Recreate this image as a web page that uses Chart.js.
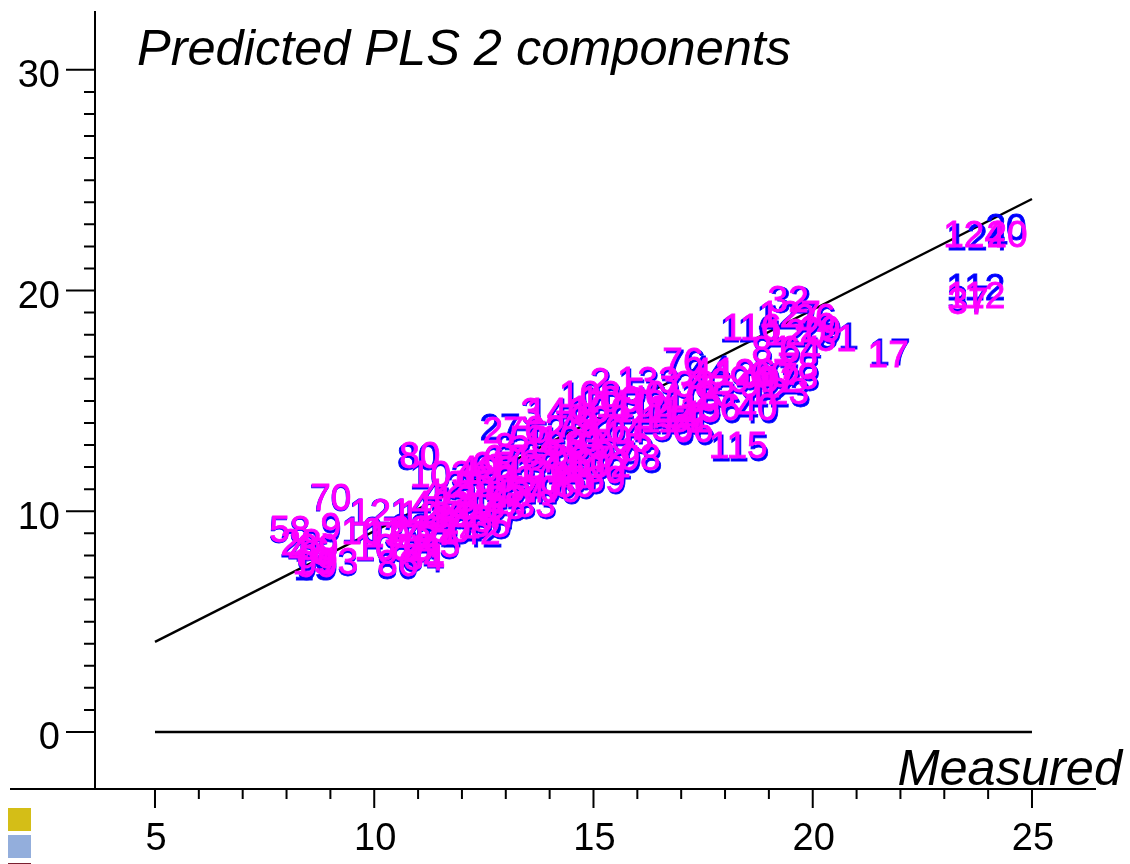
<!DOCTYPE html>
<html lang="en">
<head>
    <meta charset="UTF-8">
    <title>Predicted PLS 2 components</title>
    <script src="https://cdn.jsdelivr.net/npm/chart.js@4/dist/chart.umd.min.js"></script>
    <style>
        body { margin: 0; background: #fff; }
        canvas { display: block; }
    </style>
</head>
<body>
    <canvas id="plsChart" width="1130" height="864"></canvas>

    <script>
        // sample numbers, same order in all four arrays below
        const sampleIds = [
            58, 28, 70, 9, 93, 19, 46, 39, 99, 121, 107, 101, 86, 88, 34, 41, 125, 63, 134, 72, 52, 45,
            103, 4, 43, 142, 143, 16, 18, 21, 22, 24, 25, 135, 30, 35, 33, 47, 48, 49, 50, 53, 54, 55, 57,
            80, 27, 67, 8, 65, 61,
            3, 140, 59, 62, 136, 68, 71, 131, 74, 75, 77, 130, 79, 82, 83, 84, 85, 87, 69, 89, 90,
            98, 95, 97, 100, 102, 104, 106, 108, 2, 109, 110, 111,
            133, 5, 6, 7, 10, 11, 12, 13, 76, 14, 15, 23, 38, 42, 114, 51, 56, 66, 96, 40, 115,
            44, 126, 60, 91, 92, 94, 123, 78, 73,
            116, 32, 127, 26, 29, 31, 17, 112, 37, 124, 20, 81, 64, 120
        ];

        // magenta labels
        const measuredPls = [
            8.08, 8.33, 9.01, 9.01, 9.17, 8.60, 8.51, 8.72, 8.69, 10.15, 9.95, 10.25, 10.54, 10.86, 11.13, 11.16, 11.27, 10.82, 10.47, 11.04, 11.45, 11.50,
            11.52, 11.34, 11.32, 12.18, 12.00, 11.68, 11.84, 12.18, 12.53, 12.41, 12.07, 12.75, 11.73, 12.64, 13.67, 12.87, 13.10, 12.37, 12.75, 13.21, 13.44, 12.30, 12.98,
            11.04, 12.94, 12.96, 12.98, 12.69, 13.21,
            13.57, 14.17, 13.55, 13.89, 14.12, 13.78, 14.24, 13.67, 14.01, 14.35, 13.89, 14.46, 14.58, 14.92, 14.81, 15.15, 14.46, 14.92, 15.26, 14.58, 14.24,
            16.06, 15.88, 15.49, 15.03, 15.15, 15.49, 15.15, 14.92, 15.15, 15.38, 15.72, 16.06,
            16.24, 15.95, 16.40, 16.74, 17.09, 16.63, 16.29, 17.43, 17.04, 16.97, 17.43, 17.77, 17.31, 17.66, 16.74, 17.20, 16.79, 17.27, 17.88, 18.73, 18.30,
            17.70, 18.45, 19.03, 18.80, 19.25, 18.57, 19.21, 19.66, 19.66,
            18.61, 19.44, 19.48, 20.05, 20.17, 20.53, 21.72, 23.72, 23.54, 23.68, 24.43, 19.07, 19.71, 19.60
        ];
        const predictedPls = [
            9.15, 8.56, 10.60, 9.29, 7.70, 7.70, 8.16, 8.34, 7.57, 9.92, 9.06, 8.34, 7.61, 8.34, 7.88, 8.03, 9.83, 9.15, 8.93, 8.93, 9.15, 8.47,
            11.64, 10.83, 10.29, 9.06, 9.61, 9.83, 10.51, 10.29, 10.74, 9.83, 11.19, 10.19, 9.15, 9.38, 10.29, 9.83, 10.74, 11.87, 11.42, 11.42, 10.97, 11.19, 10.51,
            12.50, 13.64, 12.37, 12.91, 12.05, 11.87,
            14.50, 14.50, 13.23, 13.68, 13.00, 12.55, 12.32, 11.87, 11.64, 11.42, 10.97, 13.23, 13.91, 14.14, 13.00, 13.46, 12.10, 12.32, 11.42, 11.19, 10.97,
            12.41, 13.23, 12.55, 11.87, 12.10, 13.68, 14.59, 15.27, 15.86, 15.04, 14.82, 14.59,
            15.90, 15.41, 15.27, 15.50, 15.04, 14.59, 14.59, 15.27, 16.76, 14.36, 14.59, 15.27, 15.72, 15.86, 14.14, 14.14, 13.77, 13.68, 14.68, 14.68, 12.96,
            16.31, 16.27, 16.18, 15.72, 15.95, 15.95, 15.41, 16.54, 16.09,
            18.31, 19.57, 18.89, 18.76, 18.21, 17.81, 17.08, 19.76, 19.48, 22.52, 22.52, 17.31, 17.31, 18.08
        ];

        // blue labels
        const measuredOls = [
            8.07, 8.32, 9.00, 9.02, 9.16, 8.63, 8.50, 8.71, 8.70, 10.13, 9.96, 10.26, 10.53, 10.85, 11.12, 11.15, 11.26, 10.83, 10.46, 11.03, 11.44, 11.49,
            11.51, 11.33, 11.31, 12.23, 12.02, 11.71, 11.87, 12.21, 12.56, 12.44, 12.10, 12.78, 11.76, 12.67, 13.70, 12.90, 13.13, 12.40, 12.78, 13.24, 13.47, 12.33, 13.01,
            10.99, 12.87, 12.94, 13.01, 12.72, 13.24,
            13.59, 14.20, 13.58, 13.92, 14.15, 13.81, 14.27, 13.70, 14.04, 14.38, 13.92, 14.49, 14.61, 14.95, 14.84, 15.18, 14.49, 14.95, 15.29, 14.61, 14.27,
            16.10, 15.91, 15.52, 15.06, 15.18, 15.52, 15.18, 14.95, 15.18, 15.41, 15.75, 16.09,
            16.27, 15.98, 16.43, 16.77, 17.12, 16.66, 16.32, 17.46, 17.09, 17.00, 17.46, 17.80, 17.34, 17.69, 16.77, 17.23, 16.82, 17.31, 17.92, 18.77, 18.34,
            17.66, 18.48, 19.06, 18.83, 19.28, 18.60, 19.25, 19.70, 19.70,
            18.55, 19.50, 19.42, 20.08, 20.20, 20.58, 21.76, 23.72, 23.54, 23.75, 24.41, 19.10, 19.74, 19.63
        ];
        const predictedOls = [
            9.12, 8.50, 10.58, 9.15, 7.60, 7.43, 8.10, 8.28, 7.46, 9.95, 9.10, 8.28, 7.48, 8.27, 7.82, 7.97, 9.79, 9.25, 8.86, 8.86, 9.08, 8.40,
            11.58, 10.76, 10.22, 8.93, 9.52, 9.74, 10.42, 10.20, 10.65, 9.74, 11.10, 10.10, 9.06, 9.29, 10.20, 9.74, 10.65, 11.78, 11.33, 11.33, 10.88, 11.10, 10.42,
            12.41, 13.77, 12.28, 12.82, 11.96, 11.78,
            14.45, 14.45, 13.14, 13.59, 12.91, 12.46, 12.23, 11.78, 11.55, 11.33, 10.88, 13.14, 13.82, 14.05, 12.91, 13.37, 12.01, 12.23, 11.33, 11.10, 10.88,
            12.28, 13.14, 12.46, 11.78, 12.01, 13.59, 14.50, 15.18, 15.82, 14.95, 14.73, 14.50,
            15.81, 15.32, 15.18, 15.41, 14.95, 14.50, 14.50, 15.18, 16.67, 14.27, 14.50, 15.18, 15.63, 15.77, 14.05, 14.05, 13.68, 13.55, 14.55, 14.54, 12.82,
            16.40, 16.18, 16.09, 15.63, 15.86, 15.86, 15.28, 16.45, 16.00,
            18.22, 19.53, 18.80, 18.67, 18.12, 17.90, 17.17, 20.12, 19.57, 22.38, 22.84, 17.22, 17.22, 17.99
        ];

        // regression line and zero line
        const fitLineX = [5, 25];
        const fitLineY = [4.08, 24.15];
        const zeroLineY = [0, 0];

        const xTickRange = [5, 25];
        const yTickRange = [0, 30];

        function toPoints(xs, ys) {
            return xs.map((x, i) => ({ x: x, y: ys[i] }));
        }

        // number labels instead of point markers
        const sampleLabels = {
            id: 'sampleLabels',
            afterDatasetsDraw(chart) {
                const ctx = chart.ctx;
                ctx.save();
                ctx.font = '37px "Liberation Sans"';
                ctx.textAlign = 'center';
                ctx.textBaseline = 'middle';
                ctx.lineWidth = 0.8;
                [[2, '#0000ff'], [3, '#ff00ff']].forEach(([index, colour]) => {
                    ctx.fillStyle = colour;
                    ctx.strokeStyle = colour;
                    chart.getDatasetMeta(index).data.forEach((point, i) => {
                        // middle baseline sits a bit high for digits
                        ctx.fillText(String(sampleIds[i]), point.x, point.y + 2);
                        ctx.strokeText(String(sampleIds[i]), point.x, point.y + 2);
                    });
                });
                ctx.restore();
            }
        };

        // tick marks with two lengths, the long x axis line, captions, swatches
        const axisExtras = {
            id: 'axisExtras',
            afterDraw(chart) {
                const ctx = chart.ctx;
                const xScale = chart.scales.x;
                const yScale = chart.scales.y;
                const area = chart.chartArea;
                ctx.save();
                ctx.strokeStyle = '#000';
                ctx.lineWidth = 2;
                ctx.beginPath();
                ctx.moveTo(10, area.bottom);
                ctx.lineTo(area.left, area.bottom);
                xScale.ticks.forEach(tick => {
                    const px = xScale.getPixelForValue(tick.value);
                    ctx.moveTo(px, area.bottom);
                    ctx.lineTo(px, area.bottom + (tick.value % 5 === 0 ? 19 : 10));
                });
                yScale.ticks.forEach(tick => {
                    const py = yScale.getPixelForValue(tick.value);
                    ctx.moveTo(area.left, py);
                    ctx.lineTo(area.left - (tick.value % 10 === 0 ? 29 : 11), py);
                });
                ctx.stroke();

                ctx.fillStyle = '#000';
                ctx.font = 'italic 50.5px "Liberation Sans"';
                ctx.textBaseline = 'alphabetic';
                ctx.textAlign = 'left';
                ctx.fillText('Predicted PLS 2 components', 137, 65);
                ctx.textAlign = 'right';
                ctx.fillText('Measured', 1122, 785);

                ctx.fillStyle = '#d4be17';
                ctx.fillRect(8, 808, 23, 23);
                ctx.fillStyle = '#93aedc';
                ctx.fillRect(8, 835, 23, 23);
                ctx.fillStyle = '#7a2030';
                ctx.fillRect(8, 863, 23, 1);
                ctx.restore();
            }
        };

        new Chart(document.getElementById('plsChart'), {
            type: 'scatter',
            data: {
                datasets: [
                    { label: 'Fit', data: toPoints(fitLineX, fitLineY), showLine: true, borderColor: '#000', borderWidth: 2.4, pointRadius: 0 },
                    { label: 'Zero', data: toPoints(fitLineX, zeroLineY), showLine: true, borderColor: '#000', borderWidth: 2.4, pointRadius: 0 },
                    { label: 'Blue', data: toPoints(measuredOls, predictedOls), pointRadius: 0 },
                    { label: 'Magenta', data: toPoints(measuredPls, predictedPls), pointRadius: 0 }
                ]
            },
            options: {
                responsive: false,
                animation: false,
                events: [],
                layout: { padding: { top: 12, right: 35, left: 0, bottom: 0 } },
                plugins: { legend: { display: false }, tooltip: { enabled: false } },
                scales: {
                    x: {
                        type: 'linear',
                        min: 3.632,
                        max: 26.437,
                        border: { color: '#000', width: 2 },
                        grid: { drawOnChartArea: false, drawTicks: false },
                        afterFit: scale => { scale.height = 75; scale.paddingLeft = 0; scale.paddingRight = 0; },
                        afterBuildTicks: scale => {
                            scale.ticks = scale.ticks.filter(t => t.value >= xTickRange[0] && t.value <= xTickRange[1]);
                        },
                        ticks: {
                            stepSize: 1,
                            autoSkip: false,
                            maxRotation: 0,
                            includeBounds: false,
                            padding: 28,
                            labelOffset: 1,
                            color: '#000',
                            font: { family: '"Liberation Sans"', size: 38 },
                            callback: value => (value % 5 === 0 ? String(value) : '')
                        }
                    },
                    y: {
                        type: 'linear',
                        min: -2.583,
                        max: 32.62,
                        border: { color: '#000', width: 2 },
                        grid: { drawOnChartArea: false, drawTicks: false },
                        afterFit: scale => { scale.width = 95; scale.paddingTop = 0; scale.paddingBottom = 0; },
                        afterBuildTicks: scale => {
                            scale.ticks = scale.ticks.filter(t => t.value >= yTickRange[0] && t.value <= yTickRange[1]);
                        },
                        ticks: {
                            stepSize: 1,
                            autoSkip: false,
                            includeBounds: false,
                            padding: 35,
                            labelOffset: 7,
                            color: '#000',
                            font: { family: '"Liberation Sans"', size: 38 },
                            callback: value => (value % 10 === 0 ? String(value) : '')
                        }
                    }
                }
            },
            plugins: [sampleLabels, axisExtras]
        });
    </script>
</body>
</html>
